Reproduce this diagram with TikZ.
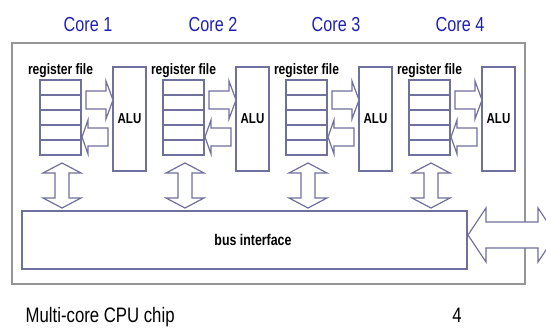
\documentclass[tikz,border=0pt]{standalone}
\usepackage{fontspec}
\setmainfont[FakeStretch=0.8]{Liberation Sans}
\usepackage{tikz}

\begin{document}
\begin{tikzpicture}[x=0.75pt,y=0.75pt,yscale=-1,xscale=1,
	part/.style={draw={rgb, 255:red, 112; green, 112; blue, 158 }, line width=0.9, fill=white},
	alubox/.style={part, minimum width=24.75, minimum height=78, inner sep=0, font=\bfseries\fontsize{10.8}{12}\selectfont},
	corelabel/.style={text={rgb, 255:red, 32; green, 32; blue, 178 }, font=\fontsize{15.2}{18}\selectfont},
	reglabel/.style={font=\bfseries\fontsize{11.3}{13}\selectfont}]
	\clip (0,0) rectangle (546,329);
	
	%Shape: Rectangle [chip]
	\draw [draw={rgb, 255:red, 150; green, 150; blue, 150 }, line width=0.9] (12,43) rectangle (525,284) ;
	%Shape: Rectangle [bus]
	\draw [part] (22,211) rectangle (467,269) ;
	\node [font=\bfseries\fontsize{11.6}{13}\selectfont] (bus) at (253,240) {bus interface};
	%Double Arrow [bus to outside]
	\draw [part] (468,235) -- (486,208) -- (486,222) -- (538,222) -- (538,208) -- (556,235) -- (538,262) -- (538,248) -- (486,248) -- (486,262) -- cycle ;
	
	%Core 1
	\node [corelabel] (core1) at (88,25) {Core 1};
	\node [reglabel] (reg1) at (60.5,71) {register file};
	\draw [part] (40,80) rectangle (81,155) (40,95) -- (81,95) (40,110) -- (81,110) (40,125) -- (81,125) (40,140) -- (81,140) ;
	\node [alubox] (alu1) at (129.5,119) {ALU};
	\draw [part] (86,91) -- (106,91) -- (106,81) -- (113,100) -- (106,119) -- (106,109) -- (86,109) -- cycle ;
	\draw [part] (108,128) -- (88,128) -- (88,120) -- (82,137) -- (88,154) -- (88,146) -- (108,146) -- cycle ;
	\draw [part] (62,163) -- (81,173) -- (69,173) -- (69,198) -- (81,198) -- (62,208) -- (43,198) -- (55,198) -- (55,173) -- (43,173) -- cycle ;
	
	%Core 2
	\node [corelabel] (core2) at (213,25) {Core 2};
	\node [reglabel] (reg2) at (183.5,71) {register file};
	\draw [part] (163,80) rectangle (204,155) (163,95) -- (204,95) (163,110) -- (204,110) (163,125) -- (204,125) (163,140) -- (204,140) ;
	\node [alubox] (alu2) at (252.5,119) {ALU};
	\draw [part] (209,91) -- (229,91) -- (229,81) -- (236,100) -- (229,119) -- (229,109) -- (209,109) -- cycle ;
	\draw [part] (231,128) -- (211,128) -- (211,120) -- (205,137) -- (211,154) -- (211,146) -- (231,146) -- cycle ;
	\draw [part] (185,163) -- (204,173) -- (192,173) -- (192,198) -- (204,198) -- (185,208) -- (166,198) -- (178,198) -- (178,173) -- (166,173) -- cycle ;
	
	%Core 3
	\node [corelabel] (core3) at (336,25) {Core 3};
	\node [reglabel] (reg3) at (306.5,71) {register file};
	\draw [part] (286,80) rectangle (327,155) (286,95) -- (327,95) (286,110) -- (327,110) (286,125) -- (327,125) (286,140) -- (327,140) ;
	\node [alubox] (alu3) at (375.5,119) {ALU};
	\draw [part] (332,91) -- (352,91) -- (352,81) -- (359,100) -- (352,119) -- (352,109) -- (332,109) -- cycle ;
	\draw [part] (354,128) -- (334,128) -- (334,120) -- (328,137) -- (334,154) -- (334,146) -- (354,146) -- cycle ;
	\draw [part] (308,163) -- (327,173) -- (315,173) -- (315,198) -- (327,198) -- (308,208) -- (289,198) -- (301,198) -- (301,173) -- (289,173) -- cycle ;
	
	%Core 4
	\node [corelabel] (core4) at (460,25) {Core 4};
	\node [reglabel] (reg4) at (429.5,71) {register file};
	\draw [part] (409,80) rectangle (450,155) (409,95) -- (450,95) (409,110) -- (450,110) (409,125) -- (450,125) (409,140) -- (450,140) ;
	\node [alubox] (alu4) at (498.5,119) {ALU};
	\draw [part] (455,91) -- (475,91) -- (475,81) -- (482,100) -- (475,119) -- (475,109) -- (455,109) -- cycle ;
	\draw [part] (477,128) -- (457,128) -- (457,120) -- (451,137) -- (457,154) -- (457,146) -- (477,146) -- cycle ;
	\draw [part] (431,163) -- (450,173) -- (438,173) -- (438,198) -- (450,198) -- (431,208) -- (412,198) -- (424,198) -- (424,173) -- (412,173) -- cycle ;
	
	%Captions
	\node [anchor=west, font=\fontsize{15.7}{18}\selectfont] (chipcap) at (21,317) {Multi-core CPU chip};
	\node [font=\fontsize{15.7}{18}\selectfont] (pagenum) at (457,315) {4};
\end{tikzpicture}
\end{document}
